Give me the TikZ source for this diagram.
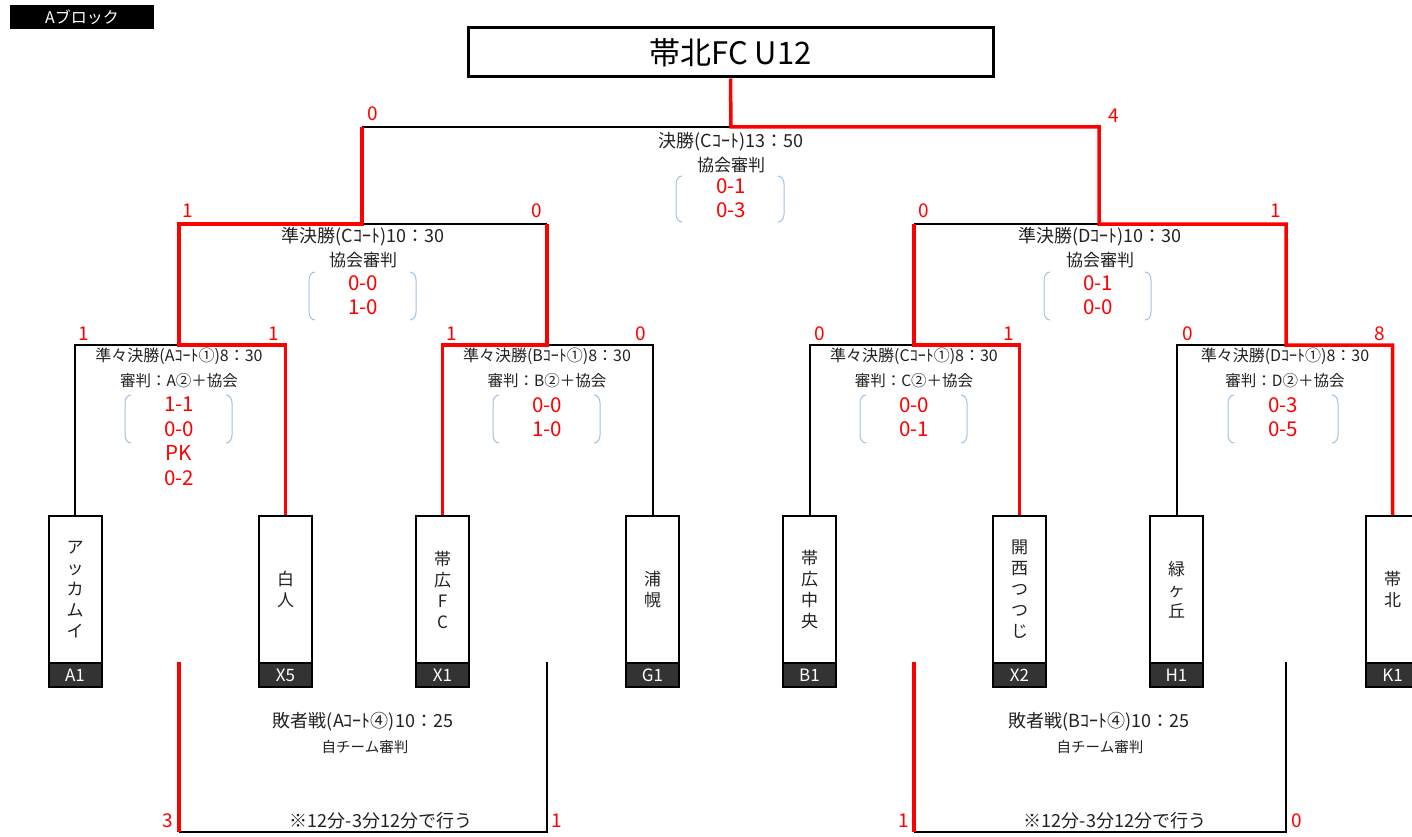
\documentclass[tikz,border=0pt]{standalone}
\usepackage{fontspec}
\setmainfont{Noto Sans CJK JP}
\definecolor{tx}{HTML}{222222}
\definecolor{rd}{HTML}{FF0000}
\definecolor{bl}{HTML}{9DC3E6}
\definecolor{band}{HTML}{333333}
\newcommand\brkt[4]{% cx, top, bottom, halfwidth
  \draw[brk] ({#1-#4+6},#2) to[out=180,in=90] ({#1-#4},{#2+8}) -- ({#1-#4},{#3-8}) to[out=-90,in=180] ({#1-#4+6},#3);
  \draw[brk] ({#1+#4-6},#2) to[out=0,in=90] ({#1+#4},{#2+8}) -- ({#1+#4},{#3-8}) to[out=-90,in=0] ({#1+#4-6},#3);}
\begin{document}
\begin{tikzpicture}[x=1pt,y=-1pt,
  blk/.style={draw=black,line width=2pt},
  win/.style={draw=rd,line width=3.5pt},
  brk/.style={draw=bl,line width=1pt},
  sc/.style={text=rd,font=\fontsize{19}{20}\selectfont,inner sep=0pt},
  big/.style={text=tx,font=\fontsize{18}{20}\selectfont,inner sep=0pt},
  ref/.style={text=tx,font=\fontsize{17}{19}\selectfont,inner sep=0pt},
  lbl/.style={text=tx,font=\fontsize{16}{18}\selectfont,inner sep=0pt},
  lbltwo/.style={text=tx,font=\fontsize{15.5}{18}\selectfont,inner sep=0pt},
  sub/.style={text=tx,font=\fontsize{14.5}{16}\selectfont,inner sep=0pt},
  res/.style={text=rd,font=\fontsize{20.5}{24.5}\selectfont,inner sep=0pt,align=center},
  team/.style={draw=black,line width=2pt,fill=white,minimum width=53pt,minimum height=147pt,anchor=north,align=center,inner sep=0pt,font=\fontsize{17}{21}\selectfont,text=tx},
  code/.style={draw=black,line width=2pt,fill=band,minimum width=53pt,minimum height=24pt,anchor=north,inner sep=0pt,text=white,font=\fontsize{17}{18}\selectfont}
]
\useasboundingbox (0,0) rectangle (1412,837);
\fill[white] (0,0) rectangle (1412,837);

% block label and title
\node[fill=black,minimum width=144pt,minimum height=24pt,inner sep=0pt,text=white,font=\fontsize{16}{18}\selectfont] (blk) at (82,17) {Aブロック};
\node[draw=black,line width=3pt,minimum width=525pt,minimum height=49pt,inner sep=0pt,font=\fontsize{31}{33}\selectfont,text=black] (title) at (730.5,52.5) {帯北FC U12};

% teams
\node[team] (tA1) at (75,515) {ア\\ッ\\カ\\ム\\イ};
\node[code] (cA1) at (75,662) {A1};
\node[team] (tX5) at (285.5,515) {白\\人};
\node[code] (cX5) at (285.5,662) {X5};
\node[team] (tX1) at (442.5,515) {帯\\広\\F\\C};
\node[code] (cX1) at (442.5,662) {X1};
\node[team] (tG1) at (652.5,515) {浦\\幌};
\node[code] (cG1) at (652.5,662) {G1};
\node[team] (tB1) at (809.5,515) {帯\\広\\中\\央};
\node[code] (cB1) at (809.5,662) {B1};
\node[team] (tX2) at (1019.5,515) {開\\西\\つ\\つ\\じ};
\node[code] (cX2) at (1019.5,662) {X2};
\node[team] (tH1) at (1176.5,515) {緑\\ヶ\\丘};
\node[code] (cH1) at (1176.5,662) {H1};
\node[team] (tK1) at (1392.5,515) {帯\\北};
\node[code] (cK1) at (1392.5,662) {K1};

% junctions
\coordinate (F) at (731,127); \coordinate (FL) at (362,127); \coordinate (FR) at (1099,127);
\coordinate (SL) at (362,224); \coordinate (SLa) at (179,224); \coordinate (SLb) at (547,224);
\coordinate (SR) at (1099,224); \coordinate (SRa) at (914,224); \coordinate (SRb) at (1286,224);
\coordinate (QA) at (179,345); \coordinate (QB) at (547,345);
\coordinate (QC) at (914,345); \coordinate (QD) at (1286,345);

% losing lines
\draw[blk] (tA1.north) |- (QA);
\draw[blk] (tG1.north) |- (QB);
\draw[blk] (tB1.north) |- (QC);
\draw[blk] (tH1.north) |- (QD);
\draw[blk] (SL) -- (SLb);
\draw[blk] (SRa) -- (SR);
\draw[blk] (FL) -- (F);
% winning lines
\draw[win] (tX5.north) |- (QA) -- (SLa) -- (SL) -- (FL);
\draw[win] (tX1.north) |- (QB) -- (SLb);
\draw[win] (tX2.north) |- (QC) -- (SRa);
\draw[win] (tK1.north) |- (QD) -- (SRb) -- (SR) -- (FR) -- (F) -- (title.south);

% consolation brackets
\coordinate (LA) at (179,662); \coordinate (LC) at (179,832);
\coordinate (LB) at (547,662); \coordinate (LD) at (547,832);
\coordinate (RA) at (914,662); \coordinate (RC) at (914,832);
\coordinate (RB) at (1286,662); \coordinate (RD) at (1286,832);
\draw[blk] (LC) -- (LD) -- (LB);
\draw[win] (LA) -- (LC);
\draw[blk] (RC) -- (RD) -- (RB);
\draw[win] (RA) -- (RC);

% score labels
\node[sc] (sF1) at (373,114) {0};
\node[sc] (sF2) at (1114,116) {4};
\node[sc] (sS1) at (188,211) {1};
\node[sc] (sS2) at (537,211) {0};
\node[sc] (sS3) at (924,211) {0};
\node[sc] (sS4) at (1276,211) {1};
\node[sc] (sQ1) at (84,334) {1};
\node[sc] (sQ2) at (274,334) {1};
\node[sc] (sQ3) at (452,334) {1};
\node[sc] (sQ4) at (641,334) {0};
\node[sc] (sQ5) at (820,334) {0};
\node[sc] (sQ6) at (1009,334) {1};
\node[sc] (sQ7) at (1188,334) {0};
\node[sc] (sQ8) at (1380,334) {8};
\node[sc] (sL1) at (168,821) {3};
\node[sc] (sL2) at (557,821) {1};
\node[sc] (sL3) at (904,821) {1};
\node[sc] (sL4) at (1297,821) {0};

% final
\node[big] (fT1) at (731,142) {決勝(Cｺｰﾄ)13：50};
\node[ref] (fT2) at (731,165) {協会審判};
\node[res] (fR) at (731,198) {0-1\\0-3};
\brkt{730}{176}{222}{54}
% semis
\node[big] (sT1) at (363,237) {準決勝(Cｺｰﾄ)10：30};
\node[ref] (sT2) at (363,260) {協会審判};
\node[res] (sR) at (363,295) {0-0\\1-0};
\brkt{362.5}{272}{320}{53.5}
\node[big] (tT1) at (1100,237) {準決勝(Dｺｰﾄ)10：30};
\node[ref] (tT2) at (1100,260) {協会審判};
\node[res] (tR) at (1098,295) {0-1\\0-0};
\brkt{1097.5}{272}{320}{53.5}
% quarterfinals
\node[lbl] (qA1) at (179,356) {準々決勝(Aｺｰﾄ①)8：30};
\node[lbltwo] (qA2) at (179,381) {審判：A②＋協会};
\node[res] (qAR) at (179,441.5) {1-1\\0-0\\PK\\0-2};
\brkt{178.5}{395}{443}{53.5}
\node[lbl] (qB1) at (547,356) {準々決勝(Bｺｰﾄ①)8：30};
\node[lbltwo] (qB2) at (547,381) {審判：B②＋協会};
\node[res] (qBR) at (547,417) {0-0\\1-0};
\brkt{546.5}{395}{443}{53.5}
\node[lbl] (qC1) at (914,356) {準々決勝(Cｺｰﾄ①)8：30};
\node[lbltwo] (qC2) at (914,381) {審判：C②＋協会};
\node[res] (qCR) at (914,417) {0-0\\0-1};
\brkt{913.5}{395}{443}{53.5}
\node[lbl] (qD1) at (1285,356) {準々決勝(Dｺｰﾄ①)8：30};
\node[lbltwo] (qD2) at (1285,381) {審判：D②＋協会};
\node[res] (qDR) at (1283,417) {0-3\\0-5};
\brkt{1283}{395}{443}{55}
% consolation labels
\node[big] (cL1) at (363,722) {敗者戦(Aｺｰﾄ④)10：25};
\node[sub] (cL2) at (365,747) {自チーム審判};
\node[big] (cL3) at (381,821) {※12分-3分12分で行う};
\node[big] (cR1) at (1099,722) {敗者戦(Bｺｰﾄ④)10：25};
\node[sub] (cR2) at (1100,747) {自チーム審判};
\node[big] (cR3) at (1115,821) {※12分-3分12分で行う};
\end{tikzpicture}
\end{document}
